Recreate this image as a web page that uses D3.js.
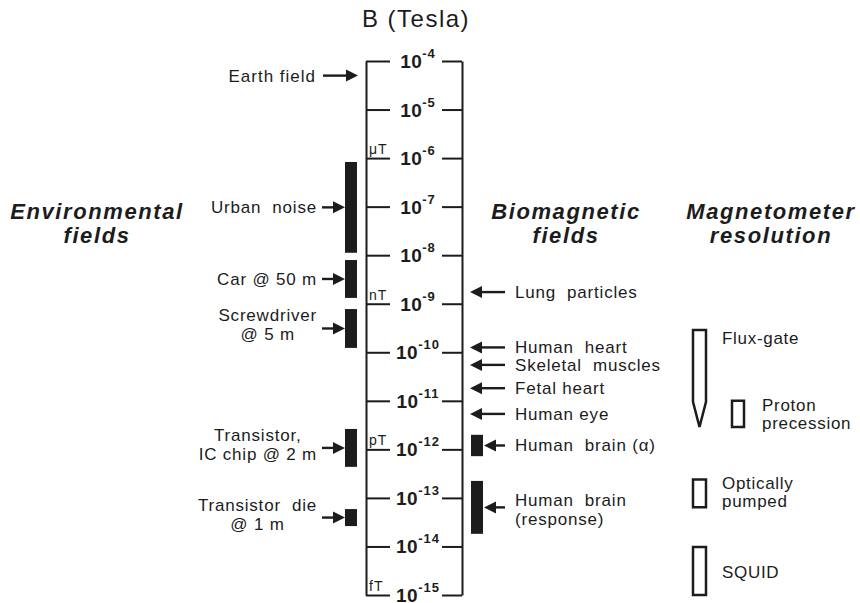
<!DOCTYPE html>
<html>
<head>
<meta charset="utf-8">
<script src="https://cdn.jsdelivr.net/npm/d3@7"></script>
<style>
  body { margin: 0; background: #fff; }
  svg { font-family: "Liberation Sans", Arial, Helvetica, sans-serif; }
</style>
</head>
<body>
<svg id="chart" width="860" height="603"></svg>
<script>
// decades shown on the B axis (exponent of 10)
const decades = [-4, -5, -6, -7, -8, -9, -10, -11, -12, -13, -14, -15];
const unitLabels = { "-6": "\u03bcT", "-9": "nT", "-12": "pT", "-15": "fT" };

// environmental sources: label lines, upper and lower exponent
const envNames = [["Urban  noise"], ["Car @ 50 m"], ["Screwdriver", "@ 5 m"], ["Transistor,", "IC chip @ 2 m"], ["Transistor  die", "@ 1 m"]];
const envTop = [-6.08, -8.10, -9.11, -11.58, -13.23];
const envBottom = [-7.95, -8.88, -9.91, -12.36, -13.58];
const earthField = 5e-5;

// biomagnetic single values (arrows only)
const bioNames = ["Lung  particles", "Human  heart", "Skeletal  muscles", "Fetal heart", "Human eye"];
const bioValues = [-8.76, -9.90, -10.26, -10.74, -11.27];

// biomagnetic ranges (bars)
const brainNames = [["Human  brain (\u03b1)"], ["Human  brain", "(response)"]];
const brainTop = [-11.70, -12.65];
const brainBottom = [-12.14, -13.74];

// magnetometer resolution ranges
const meterNames = [["Flux-gate"], ["Proton", "precession"], ["Optically", "pumped"], ["SQUID"]];
const meterTop = [-9.54, -11.00, -12.62, -14.01];
const meterBottom = [-11.54, -11.54, -13.19, -15.0];
const fluxShoulder = -11.02;

let svg = d3.select("#chart");
let y = d3.scaleLog().domain([1e-4, 1e-15]).range([61, 595]);
let ye = (e) => y(Math.pow(10, e));
let ink = "#1c1c1c";
let fs = 17;

// arrowhead helper
function arrow(g, x1, x2, yy) {
  let dir = x2 > x1 ? 1 : -1;
  g.append("line").attr("x1", x1).attr("x2", x2 - dir * 9).attr("y1", yy).attr("y2", yy)
    .attr("stroke", ink).attr("stroke-width", 2.4);
  g.append("path")
    .attr("d", `M${x2},${yy} L${x2 - dir * 12},${yy - 6} L${x2 - dir * 12},${yy + 6} Z`)
    .attr("fill", ink);
}

// title
svg.append("text").attr("x", 416).attr("y", 27).attr("text-anchor", "middle")
  .attr("font-size", 24).attr("letter-spacing", 1.5).attr("fill", ink).text("B (Tesla)");

// axis: two vertical rails with ticks
let tickVals = decades.map((e) => Math.pow(10, e));
let leftAxis = d3.axisRight(y).tickValues(tickVals).tickSize(24).tickSizeOuter(0).tickFormat("");
let rightAxis = d3.axisLeft(y).tickValues(tickVals).tickSize(20).tickSizeOuter(0).tickFormat("");
[[366, leftAxis], [462, rightAxis]].forEach(([x, ax]) => {
  let g = svg.append("g").attr("transform", `translate(${x},0)`).call(ax);
  g.selectAll("path, line").attr("stroke", ink).attr("stroke-width", 2);
});

// decade labels
let lab = svg.append("g").selectAll("text").data(decades).enter().append("text")
  .attr("x", 418).attr("y", (d) => ye(d) + 7)
  .attr("text-anchor", "middle").attr("fill", ink).attr("font-weight", "bold");
lab.append("tspan").attr("font-size", 19).attr("letter-spacing", 0.5).text("10");
lab.append("tspan").attr("font-size", 13).attr("dy", -10).attr("letter-spacing", 1).text((d) => "-" + (-d));

svg.append("g").selectAll("text").data(decades.filter((d) => unitLabels[d])).enter().append("text")
  .attr("x", 369).attr("y", (d) => ye(d) - 4).attr("font-size", 14).attr("letter-spacing", 1).attr("fill", ink)
  .text((d) => unitLabels[d]);

// section headings
let heads = [[97, ["Environmental", "fields"]], [566, ["Biomagnetic", "fields"]], [771, ["Magnetometer", "resolution"]]];
heads.forEach(([x, lines]) => {
  let t = svg.append("text").attr("text-anchor", "middle").attr("font-size", 22).attr("letter-spacing", 1.6)
    .attr("font-weight", "bold").attr("font-style", "italic").attr("fill", ink);
  lines.forEach((l, i) => t.append("tspan").attr("x", x).attr("y", 219 + i * 24).text(l));
});

// label block: right side blocks are centred with right edge at x, left side blocks start at x
function labelBlock(g, lines, x, yy, align, offsets, ls = 1) {
  let t = g.append("text").attr("font-size", fs).attr("letter-spacing", ls).attr("fill", ink)
    .style("white-space", "pre");
  lines.forEach((l, i) => t.append("tspan").attr("y", yy + offsets[i]).text(l));
  let spans = t.selectAll("tspan");
  let w = d3.max(spans.nodes(), (n) => n.getComputedTextLength());
  if (align === "left") {
    t.attr("text-anchor", "start");
    spans.attr("x", x);
  } else if (lines.length === 1) {
    t.attr("text-anchor", "end");
    spans.attr("x", x);
  } else {
    t.attr("text-anchor", "middle");
    spans.attr("x", x - w / 2);
  }
}

// earth field
let env = svg.append("g");
arrow(env, 323, 358, y(earthField));
labelBlock(env, ["Earth field"], 316, y(earthField), "right", [6]);

// environmental bars
envNames.forEach((names, i) => {
  let y0 = ye(envTop[i]), y1 = ye(envBottom[i]);
  env.append("rect").attr("x", 345).attr("y", y0).attr("width", 12).attr("height", y1 - y0).attr("fill", ink);
  let mid = (y0 + y1) / 2;
  arrow(env, 322, 345, mid);
  labelBlock(env, names, 317, mid, "right", names.length === 1 ? [6] : [-7, 12], 0.8);
});

// biomagnetic arrows
let bio = svg.append("g");
bioNames.forEach((n, i) => {
  let yy = ye(bioValues[i]);
  arrow(bio, 505, 470, yy);
  labelBlock(bio, [n], 515, yy, "left", [6], 0.8);
});
brainNames.forEach((names, i) => {
  let y0 = ye(brainTop[i]), y1 = ye(brainBottom[i]);
  bio.append("rect").attr("x", 471).attr("y", y0).attr("width", 12).attr("height", y1 - y0).attr("fill", ink);
  let mid = (y0 + y1) / 2;
  arrow(bio, 505, 484, mid);
  labelBlock(bio, names, 515, mid, "left", names.length === 1 ? [6] : [-1, 18], 0.8);
});

// magnetometer resolution outlines
let met = svg.append("g");
meterNames.forEach((names, i) => {
  let y0 = ye(meterTop[i]), y1 = ye(meterBottom[i]);
  let x0 = i === 1 ? 732 : 693, w = i === 1 ? 12 : 13;
  let d;
  if (i === 0) {
    let ys = ye(fluxShoulder);
    d = `M${x0},${y0} H${x0 + w} V${ys} L${x0 + w / 2},${y1} L${x0},${ys} Z`;
  } else {
    d = `M${x0},${y0} H${x0 + w} V${y1} H${x0} Z`;
  }
  met.append("path").attr("d", d).attr("fill", "none").attr("stroke", ink)
    .attr("stroke-width", 2.5).attr("stroke-linejoin", "miter");
  let lx = i === 1 ? 762 : 722;
  let offs = [[14], [-3, 15], [-4, 14], [7]][i];
  labelBlock(met, names, lx, i === 0 ? y0 : (y0 + y1) / 2, "left", offs, 0.7);
});
</script>
</body>
</html>
